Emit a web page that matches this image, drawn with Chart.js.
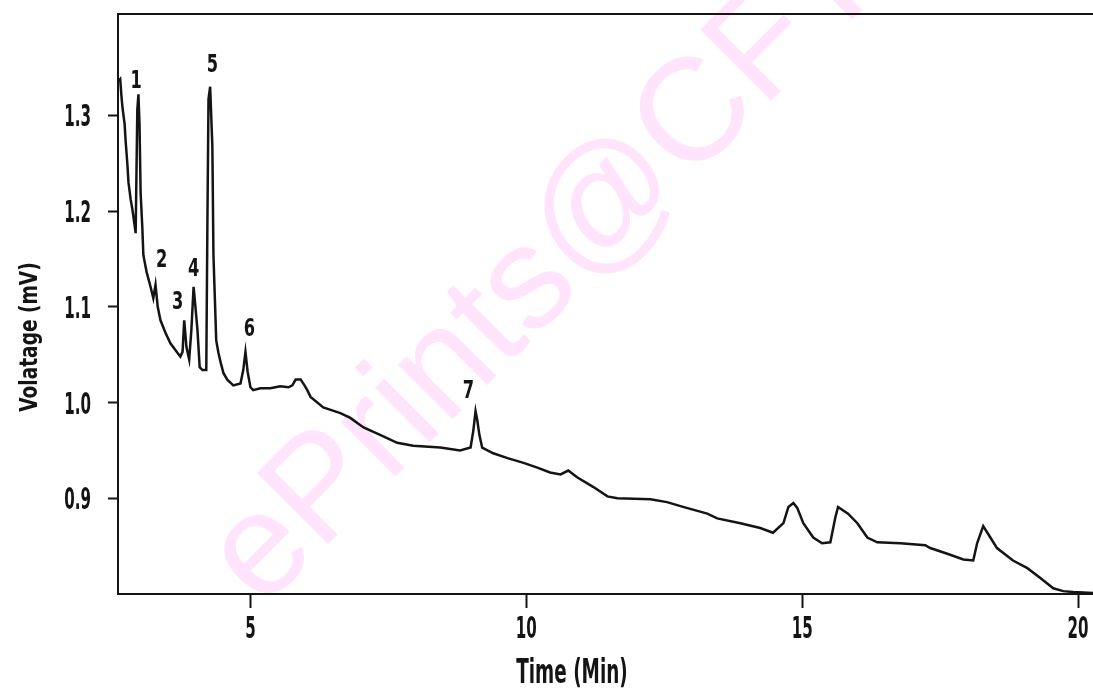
<!DOCTYPE html>
<html>
<head>
<meta charset="utf-8">
<script src="https://cdn.jsdelivr.net/npm/chart.js@4"></script>
<style>
  html, body { margin: 0; padding: 0; background: #fff; overflow: hidden; }
  canvas { display: block; }
</style>
</head>
<body>
<canvas id="chromChart" width="1093" height="695"></canvas>
<script>
// ── Data ─────────────────────────────────────────────────────────
const timeMin = [
    2.61, 2.64, 2.66, 2.68, 2.72, 2.74, 2.77, 2.79, 2.83, 2.86, 2.88, 2.92,
    2.95, 2.97, 2.99, 3.01, 3.04, 3.06, 3.12, 3.19, 3.24, 3.28, 3.32, 3.37,
    3.46, 3.55, 3.64, 3.73, 3.77, 3.80, 3.84, 3.89, 3.93, 3.97, 4.00, 4.04,
    4.08, 4.13, 4.20, 4.22, 4.24, 4.27, 4.31, 4.33, 4.38, 4.42, 4.46, 4.51,
    4.58, 4.69, 4.82, 4.87, 4.91, 4.95, 5.00, 5.05, 5.18, 5.36, 5.54, 5.69,
    5.76, 5.82, 5.91, 5.98, 6.03, 6.09, 6.32, 6.63, 6.81, 7.05, 7.36, 7.66,
    7.95, 8.44, 8.80, 8.99, 9.04, 9.08, 9.11, 9.15, 9.20, 9.40, 9.66, 9.95,
    10.20, 10.43, 10.62, 10.76, 10.92, 11.21, 11.47, 11.65, 12.25, 12.55, 12.84, 13.28,
    13.46, 13.88, 14.24, 14.47, 14.66, 14.75, 14.84, 14.91, 15.02, 15.20, 15.36, 15.51,
    15.60, 15.65, 15.83, 16.00, 16.18, 16.36, 16.78, 17.23, 17.32, 17.63, 17.92, 18.10,
    18.17, 18.28, 18.41, 18.53, 18.82, 19.08, 19.31, 19.55, 19.73, 19.91, 20.27
];
const voltage = [
    1.336, 1.338, 1.322, 1.309, 1.291, 1.272, 1.249, 1.230, 1.212, 1.202, 1.194, 1.177,
    1.306, 1.322, 1.291, 1.219, 1.184, 1.154, 1.136, 1.121, 1.109, 1.123, 1.100, 1.086,
    1.073, 1.062, 1.055, 1.048, 1.053, 1.086, 1.058, 1.045, 1.076, 1.121, 1.102, 1.076,
    1.037, 1.034, 1.034, 1.186, 1.317, 1.330, 1.268, 1.154, 1.065, 1.052, 1.042, 1.031,
    1.024, 1.018, 1.020, 1.034, 1.053, 1.032, 1.016, 1.013, 1.015, 1.015, 1.017, 1.016,
    1.018, 1.024, 1.024, 1.018, 1.013, 1.006, 0.995, 0.989, 0.984, 0.974, 0.966, 0.958,
    0.955, 0.953, 0.950, 0.953, 0.971, 0.991, 0.982, 0.966, 0.953, 0.947, 0.942, 0.937,
    0.932, 0.927, 0.925, 0.929, 0.922, 0.912, 0.902, 0.900, 0.899, 0.896, 0.891, 0.884,
    0.879, 0.874, 0.869, 0.864, 0.874, 0.891, 0.895, 0.890, 0.874, 0.859, 0.853, 0.854,
    0.880, 0.891, 0.884, 0.874, 0.859, 0.854, 0.853, 0.851, 0.848, 0.842, 0.836, 0.835,
    0.853, 0.871, 0.859, 0.848, 0.835, 0.827, 0.817, 0.806, 0.803, 0.802, 0.801
];

const xTicks = [5, 10, 15, 20];
const yTicks = [0.9, 1.0, 1.1, 1.2, 1.3];

// peak numbers, placed at (time, voltage) of the label
const peakNames = ['1', '2', '3', '4', '5', '6', '7'];
const peakLabelTime = [2.93, 3.39, 3.68, 3.97, 4.31, 4.98, 8.95];
const peakLabelVolt = [1.338, 1.151, 1.107, 1.142, 1.355, 1.079, 1.014];

const xTitle = 'Time (Min)';
const yTitle = 'Volatage (mV)';
const watermark = 'ePrints@CFTRI';

const FONT = '"DejaVu Sans Condensed", "DejaVu Sans", sans-serif';
const INK = '#141414';

// text in a tall, narrow face: squeeze horizontally around (x, y)
function narrowText(ctx, text, x, y, font, sx, align, baseline) {
    ctx.save();
    ctx.translate(x, y);
    ctx.scale(sx, 1);
    ctx.font = font;
    ctx.textAlign = align;
    ctx.textBaseline = baseline;
    ctx.fillText(text, 0, 0);
    ctx.restore();
}

// ── Plugins ─────────────────────────────────────────────────────────
const watermarkPlugin = {
    id: 'watermark',
    beforeDraw(chart) {
        const ctx = chart.ctx;
        ctx.save();
        ctx.translate(262, 610);
        ctx.rotate(-Math.PI / 4);
        ctx.font = '146px "Liberation Sans", Arial, sans-serif';
        ctx.fillStyle = '#ffe4fb';
        ctx.textAlign = 'left';
        ctx.textBaseline = 'alphabetic';
        ctx.fillText(watermark, 0, 0);
        ctx.restore();
    }
};

const decorPlugin = {
    id: 'decor',
    afterDraw(chart) {
        const { ctx, chartArea, scales } = chart;
        ctx.save();
        // top frame line
        ctx.strokeStyle = INK;
        ctx.lineWidth = 2;
        ctx.beginPath();
        ctx.moveTo(chartArea.left, chartArea.top);
        ctx.lineTo(chart.width, chartArea.top);
        ctx.stroke();

        ctx.fillStyle = INK;
        // tick labels, from the scales' own ticks
        const tickFont = 'bold 30px ' + FONT;
        scales.x.ticks.forEach(t => {
            narrowText(ctx, String(t.value), scales.x.getPixelForValue(t.value), 638,
                tickFont, 0.56, 'center', 'alphabetic');
        });
        scales.y.ticks.forEach(t => {
            narrowText(ctx, t.value.toFixed(1), 91, scales.y.getPixelForValue(t.value) + 11,
                tickFont, 0.56, 'right', 'alphabetic');
        });

        // peak numbers
        peakNames.forEach((name, i) => {
            narrowText(ctx, name,
                scales.x.getPixelForValue(peakLabelTime[i]),
                scales.y.getPixelForValue(peakLabelVolt[i]) + 9,
                'bold 24px ' + FONT, 0.75, 'center', 'alphabetic');
        });

        // axis titles
        narrowText(ctx, xTitle, 572, 683, 'bold 33px ' + FONT, 0.62, 'center', 'alphabetic');
        ctx.translate(37, 337);
        ctx.rotate(-Math.PI / 2);
        narrowText(ctx, yTitle, 0, 0, 'bold 24px ' + FONT, 0.86, 'center', 'alphabetic');
        ctx.restore();
    }
};

// ── Chart ───────────────────────────────────────────────────────────
new Chart(document.getElementById('chromChart'), {
    type: 'line',
    data: {
        datasets: [{
            data: timeMin.map((t, i) => ({ x: t, y: voltage[i] })),
            borderColor: INK,
            borderWidth: 2.5,
            pointRadius: 0,
            tension: 0,
            fill: false,
        }]
    },
    options: {
        responsive: false,
        animation: false,
        events: [],
        layout: { padding: { top: 14, right: 0, left: 0, bottom: 0 } },
        plugins: { legend: { display: false }, tooltip: { enabled: false } },
        scales: {
            x: {
                type: 'linear',
                min: 2.6,
                max: 20.27,
                afterFit: (s) => { s.height = 101; s.paddingLeft = 0; s.paddingRight = 0; },
                afterBuildTicks: (s) => { s.ticks = xTicks.map(v => ({ value: v })); },
                grid: { drawOnChartArea: false, drawTicks: true, tickLength: 14, tickColor: INK, tickWidth: 2 },
                border: { display: true, color: INK, width: 2 },
                ticks: { display: false }
            },
            y: {
                min: 0.8,
                max: 1.406,
                afterFit: (s) => { s.width = 118; s.paddingTop = 0; s.paddingBottom = 0; },
                afterBuildTicks: (s) => { s.ticks = yTicks.map(v => ({ value: v })); },
                grid: { drawOnChartArea: false, drawTicks: true, tickLength: 10, tickColor: INK, tickWidth: 2 },
                border: { display: true, color: INK, width: 2 },
                ticks: { display: false }
            }
        }
    },
    plugins: [watermarkPlugin, decorPlugin]
});
</script>
</body>
</html>
